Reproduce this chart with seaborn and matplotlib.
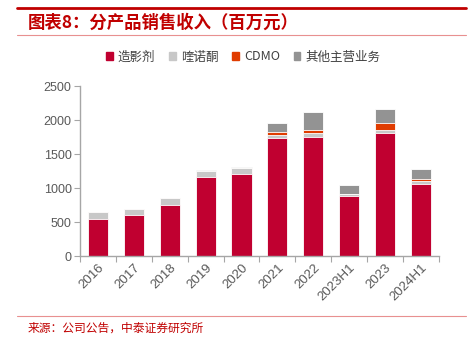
import matplotlib
matplotlib.use("Agg")
import matplotlib.pyplot as plt
import matplotlib.patches as mpatches
from matplotlib.lines import Line2D
import seaborn as sns
import pandas as pd
import numpy as np

categories = ["2016", "2017", "2018", "2019", "2020", "2021", "2022", "2023H1", "2023", "2024H1"]
contrast = [544, 600, 745, 1166, 1210, 1740, 1750, 887, 1814, 1064]
quinolone = [103, 85, 108, 84, 89, 35, 54, 25, 44, 39]
cdmo = [0, 0, 0, 0, 0, 44, 49, 0, 93, 34]
other = [0, 5, 0, 20, 10, 132, 260, 132, 206, 147]
series_names = ["造影剂", "喹诺酮", "CDMO", "其他主营业务"]
colors = ["#C00030", "#C8C8C8", "#E03C00", "#939393"]
yticks = [0, 500, 1000, 1500, 2000, 2500]

sns.set_theme(style="white")
plt.rcParams["font.family"] = ["Liberation Sans", "Noto Sans CJK SC", "DejaVu Sans"]

df = pd.DataFrame({"cat": categories, "s0": contrast, "s1": quinolone, "s2": cdmo, "s3": other})
cum = df[["s0", "s1", "s2", "s3"]].cumsum(axis=1)

fig = plt.figure(figsize=(4.72, 3.39), dpi=100)
ax = fig.add_axes([0.1695, 0.2448, 0.7605, 0.5015])

for i in [3, 2, 1, 0]:
    sns.barplot(x=df["cat"], y=cum[f"s{i}"], color=colors[i], ax=ax, width=0.56,
                edgecolor="white", linewidth=0.6, saturation=1)

ax.set_ylim(0, 2500)
ax.set_xlim(-0.5, len(categories) - 0.5)
ax.set_yticks(yticks)
ax.set_xlabel("")
ax.set_ylabel("")
ax.tick_params(axis="y", labelsize=9, colors="#595959", length=4, width=0.8, direction="out", left=True, pad=2)
ax.tick_params(axis="x", which="major", labelsize=9.5, colors="#595959", length=0, pad=4)
ax.set_xticks(np.arange(-0.5, len(categories), 1.0), minor=True)
ax.tick_params(axis="x", which="minor", length=4, width=0.8, color="#A6A6A6", bottom=True)
ax.tick_params(axis="y", color="#A6A6A6")
plt.setp(ax.get_xticklabels(), rotation=45, ha="right", rotation_mode="anchor")
for s in ["top", "right"]:
    ax.spines[s].set_visible(False)
for s in ["left", "bottom"]:
    ax.spines[s].set_color("#A6A6A6")
    ax.spines[s].set_linewidth(1.0)

handles = [mpatches.Patch(color=c, label=n) for c, n in zip(colors, series_names)]
fig.legend(handles=handles, loc="center", bbox_to_anchor=(0.515, 0.832), ncol=4, frameon=False,
           handlelength=0.55, handleheight=0.55, handletextpad=0.4, columnspacing=1.1,
           labelcolor="#404040", prop={"family": ["Noto Sans CJK SC", "DejaVu Sans"], "size": 9})

fig.add_artist(Line2D([17/472, 466/472], [1-8/339, 1-8/339], color="#C00000", lw=2.0))
fig.add_artist(Line2D([17/472, 466/472], [1-35/339, 1-35/339], color="#E89090", lw=0.8))
fig.add_artist(Line2D([17/472, 466/472], [1-316/339, 1-316/339], color="#E89090", lw=0.8))
fig.text(28/472, 1-23/339, "图表8：分产品销售收入（百万元）", color="#C00000", fontsize=12.5,
         fontweight="bold", va="center", ha="left", family=["Noto Sans CJK SC", "DejaVu Sans"])
fig.text(28/472, 1-328/339, "来源：公司公告，中泰证券研究所", color="#C00000", fontsize=8.5,
         va="center", ha="left", family=["Noto Sans CJK SC", "DejaVu Sans"])

fig.savefig("out.png", dpi=100)
